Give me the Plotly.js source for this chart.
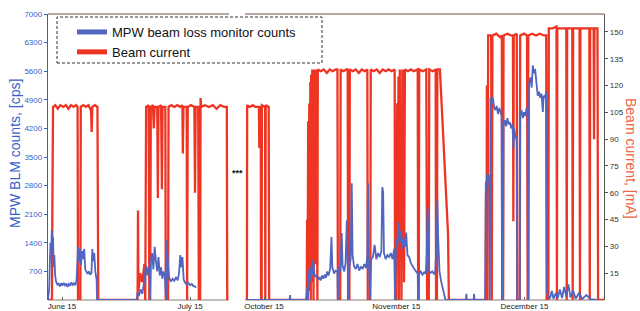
<!DOCTYPE html>
<html>
<head>
<meta charset="utf-8">
<script src="https://cdn.plot.ly/plotly-3.0.1.min.js"></script>
<style>html,body{margin:0;padding:0;background:#fff;}#chart{width:640px;height:311px;}</style>
</head>
<body>
<div id="chart"></div>
<script>
// Time axis: days relative to June 15 (summer run) and October 15 (autumn run).
// The break between the runs is compressed; October 15 sits at plot-day 47.31.
const OCT15_POS = 47.31;

const tickPositions = [0, 30, 47.31, 78.31, 108.31];
const tickLabels = ["June 15", "July 15", "October 15", "November 15", "December 15"];

const leftTicks = [700, 1400, 2100, 2800, 3500, 4200, 4900, 5600, 6300, 7000];
const rightTicks = [15, 30, 45, 60, 75, 90, 105, 120, 135, 150];

// Beam current [mA], summer run: [day from Jun 15, mA]
const currentSummer = [[-3.28,0],[-2.35,0],[-2.25,55],[-2.1,108],[-1.6,109],[-1.0,107],[-0.4,109],[0.3,108],[0.9,109],[1.5,107],[2.1,109],[2.7,108],[3.3,109],[3.65,108],[3.75,0],[4.3,0],[4.4,108],[5.0,109],[5.6,108],[6.2,109],[6.8,106],[6.95,94],[7.1,108],[7.7,109],[8.3,108],[8.5,0],[17.7,0],[17.8,50],[17.9,5],[18.3,15],[18.8,10],[19.3,20],[19.5,0],[19.62,70],[19.7,108],[20.3,109],[20.45,0],[20.65,0],[20.8,108],[21.3,109],[21.5,96],[21.7,108],[22.3,108],[22.45,57],[22.6,108],[23.2,109],[23.4,62],[23.55,108],[24.2,108],[24.3,0],[24.85,0],[24.95,108],[25.6,109],[26.3,108],[27.0,109],[27.7,108],[28.2,109],[28.3,82],[28.45,108],[29.2,108],[29.3,0],[29.45,108],[30.2,109],[31.0,108],[31.15,60],[31.3,108],[31.9,108],[32.05,0],[32.35,0],[32.45,113],[32.6,108],[33.5,109],[34.4,108],[35.3,109],[36.2,107],[37.1,109],[38.0,108],[38.6,108],[38.7,0],[38.88,0]];

// Beam current [mA], autumn run: [day from Oct 15, mA]
const currentAutumn = [[-4.22,0],[-4.0,0],[-3.95,109],[-3.3,108],[-2.6,109],[-2.0,108],[-1.2,108],[-1.1,85],[-1.0,108],[-0.75,108],[-0.7,0],[-0.55,0],[-0.5,109],[0.25,108],[0.3,0],[0.4,109],[1.1,108],[1.2,0],[9.6,0],[10.0,0],[10.1,45],[10.2,0],[10.35,100],[10.45,5],[10.6,110],[10.7,30],[10.85,122],[10.95,0],[11.05,126],[11.15,10],[11.3,129],[11.4,50],[11.5,129],[11.6,0],[11.7,129],[11.8,70],[11.9,129],[12.0,20],[12.1,129],[12.2,90],[12.35,129],[12.5,0],[12.6,129],[13.3,128],[14.0,129],[14.7,127],[15.4,129],[16.1,128],[16.8,129],[17.2,129],[17.3,0],[17.85,0],[17.95,129],[18.6,128],[19.3,129],[19.6,129],[19.7,0],[20.0,0],[20.1,129],[20.8,128],[21.5,129],[22.2,127],[22.9,129],[23.6,128],[24.2,129],[24.3,0],[24.9,0],[25.0,129],[25.7,128],[26.4,129],[27.1,127],[27.8,129],[28.5,128],[29.2,129],[29.9,128],[30.6,129],[30.7,0],[30.9,100],[31.0,0],[31.2,110],[31.3,20],[31.5,125],[31.6,0],[31.8,129],[31.9,30],[32.1,110],[32.2,0],[32.4,129],[32.5,60],[32.6,129],[32.8,10],[33.0,129],[33.7,128],[34.4,129],[35.1,128],[36.0,129],[36.1,0],[36.25,0],[36.35,129],[37.2,128],[38.0,129],[38.2,0],[38.6,0],[38.7,129],[39.5,128],[40.2,129],[40.3,0],[40.5,0],[40.6,129],[41.2,129],[43.1,37],[43.3,0],[51.9,0],[52.0,60],[52.1,0],[52.2,120],[52.35,0],[52.5,148],[53.2,148],[53.35,0],[53.5,148],[54.4,149],[55.3,147],[55.7,148],[55.8,0],[56.0,0],[56.1,148],[57.0,149],[57.9,148],[58.3,148],[58.4,44],[58.5,148],[59.2,149],[59.3,0],[59.9,0],[60.0,148],[60.9,149],[61.6,148],[61.75,0],[61.9,148],[62.8,149],[63.7,148],[64.6,149],[65.5,148],[66.1,148],[66.2,0],[66.6,0],[66.7,152],[67.6,152],[68.5,153],[68.6,0],[68.7,152],[69.6,152],[70.8,152],[70.9,0],[71.0,152],[72.2,152],[72.3,0],[72.4,152],[73.9,152],[74.0,0],[74.1,152],[76.2,152],[76.3,0],[76.4,152],[77.2,152],[77.3,90],[77.4,152],[78.1,152],[78.25,0],[79.63,0]];

// MPW beam loss monitor counts [cps], summer run: [day from Jun 15, cps]
const blmSummer = [[-3.28,0],[-3.0,300],[-2.85,900],[-2.7,1400],[-2.55,1000],[-2.4,1710],[-2.25,1200],[-2.1,1550],[-1.95,800],[-1.8,1100],[-1.6,600],[-1.4,450],[-1.1,380],[-0.8,400],[-0.5,330],[-0.2,410],[0.1,350],[0.4,420],[0.7,360],[1.0,400],[1.3,320],[1.6,390],[1.9,350],[2.2,430],[2.5,370],[2.8,410],[3.1,360],[3.4,480],[3.6,900],[3.75,1300],[3.95,950],[4.2,1250],[4.45,850],[4.7,1200],[4.95,1000],[5.2,1250],[5.45,750],[5.7,680],[6.0,640],[6.3,700],[6.6,620],[6.9,660],[7.1,1250],[7.3,950],[7.55,1150],[7.8,700],[8.1,500],[8.2,0],[17.5,0],[17.7,180],[18.0,100],[18.4,260],[18.8,150],[19.1,350],[19.4,600],[19.7,850],[19.95,600],[20.2,800],[20.5,700],[20.6,0],[20.8,900],[21.1,1150],[21.4,750],[21.7,1300],[22.0,950],[22.3,700],[22.6,1050],[22.9,600],[23.2,800],[23.5,520],[23.8,700],[24.1,560],[24.35,0],[24.55,1460],[24.8,900],[25.1,550],[25.5,450],[25.9,520],[26.3,470],[26.7,560],[27.1,480],[27.4,650],[27.7,1100],[27.95,800],[28.2,1050],[28.5,500],[28.8,430],[29.2,380],[29.6,420],[30.0,360],[30.4,390],[30.8,340],[31.2,330],[31.38,300]];

// MPW beam loss monitor counts [cps], autumn run: [day from Oct 15, cps]
const blmAutumn = [[-4.22,0],[6.0,0],[6.1,120],[6.2,0],[9.8,0],[10.0,150],[10.2,320],[10.3,0],[10.5,730],[10.8,450],[11.0,820],[11.3,600],[11.5,980],[11.8,640],[12.1,560],[12.4,600],[12.7,500],[13.0,560],[13.3,480],[13.6,600],[13.9,520],[14.2,620],[14.5,540],[14.8,700],[15.1,600],[15.5,760],[15.8,1540],[16.0,800],[16.4,650],[16.8,720],[17.2,680],[17.3,0],[17.6,820],[17.9,700],[18.2,1640],[18.4,850],[18.8,700],[19.1,900],[19.4,1950],[19.6,950],[19.75,0],[20.0,820],[20.3,1000],[20.55,2860],[20.75,1100],[21.1,820],[21.5,760],[21.9,880],[22.3,720],[22.7,820],[23.1,760],[23.5,880],[23.9,780],[24.2,1100],[24.35,2860],[24.5,1300],[24.8,0],[25.1,1000],[25.5,1050],[25.9,1350],[26.3,1000],[26.7,1150],[27.1,1050],[27.5,1200],[27.7,2760],[27.9,2650],[28.1,1150],[28.5,1000],[28.9,1100],[29.3,1050],[29.7,1150],[30.1,1000],[30.5,1250],[30.7,0],[30.9,1500],[31.2,1300],[31.5,1900],[31.8,1400],[32.1,1700],[32.4,1250],[32.7,1500],[33.0,1300],[33.3,1650],[33.6,1100],[34.0,1050],[34.4,900],[34.8,820],[35.2,760],[35.6,700],[36.0,650],[36.1,0],[36.3,640],[36.7,700],[37.1,620],[37.5,680],[37.9,640],[38.1,1100],[38.3,2270],[38.5,1600],[38.7,700],[39.0,660],[39.4,700],[39.8,640],[40.1,700],[40.4,1400],[40.6,2440],[40.8,1500],[41.1,700],[41.5,450],[41.9,250],[42.3,80],[42.5,0],[47.3,0],[47.4,150],[47.5,0],[49.1,0],[49.2,150],[49.3,0],[51.8,0],[51.95,2900],[52.1,2700],[52.3,3100],[52.5,2900],[52.8,3050],[52.9,0],[53.05,4950],[53.3,4800],[53.6,4960],[53.9,4700],[54.2,4650],[54.5,4750],[54.8,4550],[55.1,4700],[55.4,4600],[55.65,4500],[55.75,0],[56.0,0],[56.1,4300],[56.4,4400],[56.7,4250],[57.0,4450],[57.3,4300],[57.6,4350],[57.9,4200],[58.2,4300],[58.4,3700],[58.6,4200],[58.9,4000],[59.2,3900],[59.3,0],[59.9,0],[60.0,4500],[60.3,4650],[60.6,4450],[60.9,4600],[61.2,4500],[61.5,4700],[61.75,4550],[61.8,0],[62.0,0],[62.1,5300],[62.4,5450],[62.7,5200],[62.95,5740],[63.2,5550],[63.5,5650],[63.8,5300],[64.1,5000],[64.4,5100],[64.7,4950],[65.0,5050],[65.3,4600],[65.5,5000],[65.8,4950],[66.1,5100],[66.25,200],[66.6,80],[67.0,40],[67.4,220],[67.8,30],[68.3,160],[68.8,40],[69.3,260],[69.8,50],[70.3,320],[70.8,80],[71.3,380],[71.8,60],[72.4,230],[73.0,30],[73.8,180],[74.5,20],[75.5,120],[76.5,20],[78.2,0]];

function join(summer, autumn) {
  const x = [], y = [];
  summer.forEach(p => { x.push(p[0]); y.push(p[1]); });
  x.push(null); y.push(null);
  autumn.forEach(p => { x.push(p[0] + OCT15_POS); y.push(p[1]); });
  return {x, y};
}

const cur = join(currentSummer, currentAutumn);
const blm = join(blmSummer, blmAutumn);

const RED = '#ee3524';
const BLUE = '#5066c2';

// Current on the base axis 'y' (drawn first, right side); BLM on overlaying 'y2' (left side, drawn on top).
const traces = [
  {x: cur.x, y: cur.y, yaxis: 'y', type: 'scatter', mode: 'lines', connectgaps: false,
   line: {color: RED, width: 2.3}, showlegend: false, hoverinfo: 'skip'},
  {x: blm.x, y: blm.y, yaxis: 'y2', type: 'scatter', mode: 'lines', connectgaps: false,
   line: {color: BLUE, width: 1.8}, showlegend: false, hoverinfo: 'skip'},
  {x: [null], y: [null], type: 'scatter', mode: 'lines', name: 'MPW beam loss monitor counts',
   line: {color: BLUE, width: 5}, legendrank: 1},
  {x: [null], y: [null], type: 'scatter', mode: 'lines', name: 'Beam current',
   line: {color: RED, width: 5}, legendrank: 2}
];

const W = 556, H = 286;
const px2paperX = p => (p - 48) / W;
const px2paperY = p => (300 - p) / H;

const layout = {
  width: 640, height: 311,
  margin: {l: 48, r: 36, t: 14, b: 11, pad: 0},
  paper_bgcolor: '#ffffff', plot_bgcolor: '#ffffff',
  font: {family: 'Liberation Sans, Arial, sans-serif', color: '#222'},
  showlegend: true,
  legend: {
    x: px2paperX(72), y: px2paperY(17), xanchor: 'left', yanchor: 'top',
    bgcolor: 'rgba(255,255,255,0)', borderwidth: 0,
    font: {size: 13, color: '#111'}, tracegroupgap: 0, itemwidth: 30
  },
  xaxis: {
    range: [-3.28, 126.94], showgrid: false, zeroline: false, showline: false,
    tickmode: 'array', tickvals: tickPositions, ticktext: tickLabels,
    ticks: 'inside', ticklen: 3, tickcolor: '#666',
    tickfont: {size: 8, color: '#222'}, fixedrange: true
  },
  yaxis: {
    range: [0, 160], side: 'right', showgrid: false, zeroline: false,
    showline: true, linecolor: '#555', linewidth: 1.2,
    tickmode: 'array', tickvals: rightTicks,
    ticks: 'outside', ticklen: 3, tickcolor: '#555',
    tickfont: {size: 8, color: '#333'}
  },
  yaxis2: {
    range: [0, 7000], overlaying: 'y', side: 'left', showgrid: false, zeroline: false,
    showline: true, linecolor: '#3a5fc8', linewidth: 1.2,
    tickmode: 'array', tickvals: leftTicks,
    ticks: 'outside', ticklen: 3, tickcolor: '#3a5fc8',
    tickfont: {size: 8, color: '#3a5fc8'}
  },
  shapes: [
    {type: 'line', xref: 'paper', yref: 'paper', x0: 0, x1: px2paperX(229), y0: 1, y1: 1,
     line: {color: '#9c8a80', width: 1.5}},
    {type: 'line', xref: 'paper', yref: 'paper', x0: px2paperX(245), x1: 1, y0: 1, y1: 1,
     line: {color: '#9c8a80', width: 1.5}},
    {type: 'line', xref: 'paper', yref: 'paper', x0: 0, x1: px2paperX(229), y0: 0, y1: 0,
     line: {color: '#8a7a70', width: 1}, layer: 'below'},
    {type: 'line', xref: 'paper', yref: 'paper', x0: px2paperX(245), x1: 1, y0: 0, y1: 0,
     line: {color: '#8a7a70', width: 1}, layer: 'below'},
    {type: 'rect', xref: 'paper', yref: 'paper', x0: px2paperX(57), x1: px2paperX(322),
     y0: px2paperY(63), y1: px2paperY(17),
     line: {color: '#333', width: 1, dash: '3px,2px'}, fillcolor: 'rgba(0,0,0,0)', layer: 'above'}
  ],
  annotations: [
    {text: 'MPW BLM counts, [cps]', xref: 'paper', yref: 'paper', x: px2paperX(15), y: px2paperY(154),
     xanchor: 'center', yanchor: 'middle', textangle: -90, showarrow: false,
     font: {size: 14, color: '#3a5fc8'}},
    {text: 'Beam current, [mA]', xref: 'paper', yref: 'paper', x: px2paperX(631), y: px2paperY(158),
     xanchor: 'center', yanchor: 'middle', textangle: 90, showarrow: false,
     font: {size: 14, color: '#f26444'}},
    {text: '<b>***</b>', xref: 'x', yref: 'y2', x: OCT15_POS - 6.32, y: 3100,
     xanchor: 'center', yanchor: 'middle', showarrow: false, font: {size: 9, color: '#111'}}
  ]
};

Plotly.newPlot('chart', traces, layout, {staticPlot: true, displayModeBar: false});
</script>
</body>
</html>
